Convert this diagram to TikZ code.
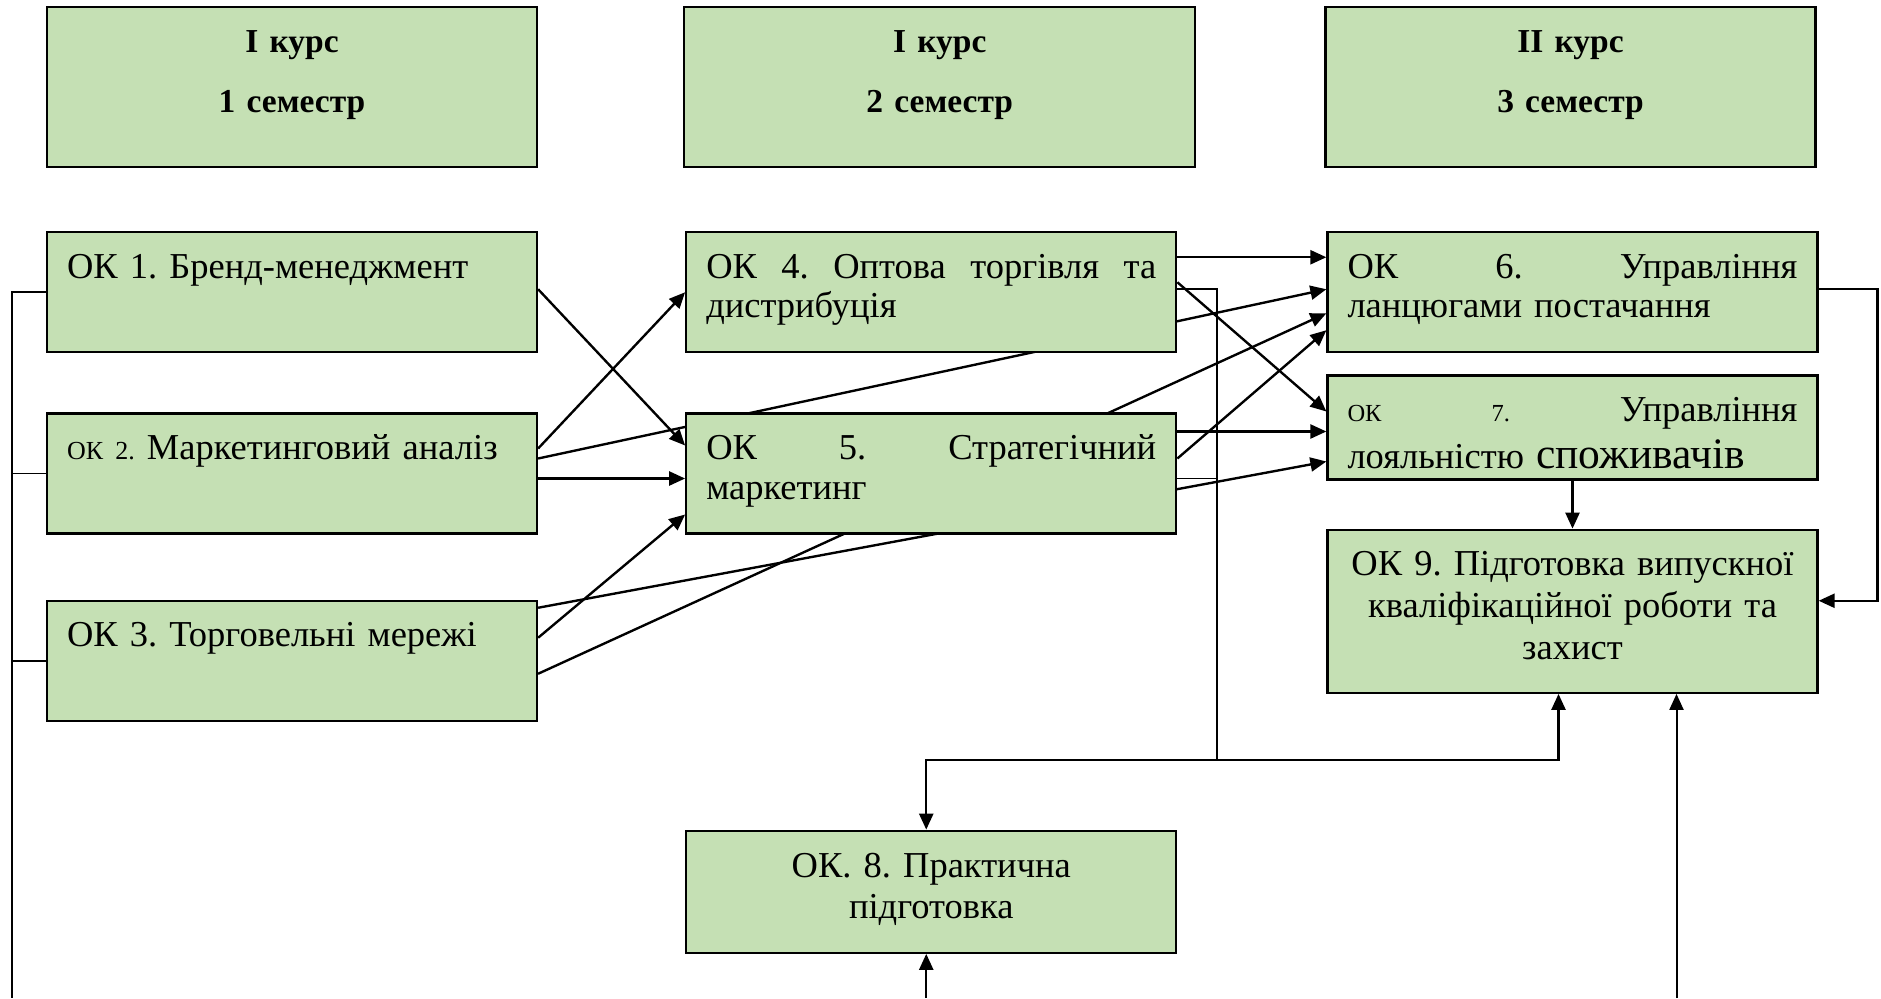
\documentclass[tikz,border=0pt]{standalone}
\usepackage{fontspec}
\setmainfont{Liberation Serif}
\usetikzlibrary{positioning,arrows.meta,backgrounds}
\definecolor{boxgreen}{RGB}{197,224,180}
\frenchspacing

\begin{document}
\begin{tikzpicture}
	[x=1pt, y=1pt,
		containsText/.style	={font=\fontsize{14.6}{15.8}\selectfont
									},
		semester/.style	={rectangle
									, draw
									, fill=boxgreen
									, line width=0.9pt
									, font=\bfseries\fontsize{13.4}{24}\selectfont
									, text width=178pt
									, align=center
									, inner xsep=9pt
									, inner ysep=0pt
									, minimum width=196pt
									, text height=18pt
									, text depth=46pt
									},
		block/.style		={rectangle
									, containsText
									, draw
									, fill=boxgreen
									, line width=0.9pt
									, text width=180pt
									, align=left
									, inner xsep=8pt
									, inner ysep=0pt
									, minimum width=196pt
									, text height=18.4pt
									, text depth=29.6pt
									},
		line/.style		 	={draw
									, line width=0.95pt
									, -{Triangle[length=6.4pt,width=5.6pt]}
									},
		link/.style			={draw
									, line width=0.95pt
									},
		thin link/.style	={draw
									, line width=0.75pt
									}
	]
\useasboundingbox (0,0) rectangle (752.4,-399.2);

% semesters
\node [semester] (sem1) at (116.8,-34.8)						{I курс\\1 семестр};
\node [semester, minimum width=204.4pt, right=58pt of sem1] (sem2)	{I курс\\2 семестр};
\node [semester, right=51.2pt of sem2] (sem3)						{II курс\\3 семестр};

% first semester
\node [block, below=25.2pt of sem1] (ok1)		{ОК 1. Бренд-менеджмент};
\node [block, below=23.6pt of ok1] (ok2)		{{\fontsize{10.4}{12}\selectfont ОК 2.} Маркетинговий аналіз};
\node [block, below=26pt of ok2] (ok3)	{ОК 3. Торговельні мережі};

% second semester
\node [block, right=58.8pt of ok1] (ok4)	{ОК\hfill 4.\hfill Оптова\hfill торгівля\hfill та\\дистрибуція};
\node [block, right=58.8pt of ok2] (ok5)	{ОК\hfill 5.\hfill Стратегічний\\маркетинг};
\node [block, below=118pt of ok5
		, align=center
		, text height=18.8pt
		, text depth=30pt
		, font=\fontsize{14.6}{16.4}\selectfont] (ok8)	{ОК. 8. Практична\\підготовка};

% third semester
\node [block, right=59.6pt of ok4] (ok6)	{ОК\hfill 6.\hfill Управління\\ланцюгами постачання};
\node [block, below=8.4pt of ok6
		, text depth=23.2pt
		, font=\fontsize{14.6}{18.8}\selectfont] (ok7)
		{{\fontsize{9.8}{11}\selectfont ОК}\hfill{\fontsize{9.8}{11}\selectfont 7.}\hfill Управління\\лояльністю {\fontsize{17.4}{18.8}\selectfont споживачів}};
\node [block, below=19.2pt of ok7
		, align=center
		, text width=192pt
		, inner xsep=2pt
		, text depth=46.8pt
		, font=\fontsize{14.6}{16.8}\selectfont] (ok9)
		{ОК 9. Підготовка випускної\\кваліфікаційної роботи та\\захист};

\coordinate (hub) at (486.8,-304);
\coordinate (trunk) at (4.8,-399.2);
\coordinate (bottom edge) at (0,-399.2);

\begin{scope}[on background layer]
	% first semester to second and third
	\path [line]	([yshift=1.2pt]ok1.east)		-- ([yshift=11.2pt]ok5.west);
	\path [line]	([yshift=10pt]ok2.east)		-- (ok4.west);
	\path [line]	([yshift=6pt]ok2.east)		-- ([yshift=1.2pt]ok6.west);
	\path [line]	([yshift=-2pt]ok2.east)		-- ([yshift=-2pt]ok5.west);
	\path [line]	([yshift=21.2pt]ok3.east)	-- ([yshift=-13.6pt]ok7.west);
	\path [line]	([yshift=9.2pt]ok3.east)		-- ([yshift=-16.4pt]ok5.west);
	\path [line]	([yshift=-5.2pt]ok3.east)	-- ([yshift=-8.4pt]ok6.west);
	% second semester to third
	\path [line]	([yshift=14pt]ok4.east)		-- ([yshift=14pt]ok6.west);
	\path [line]	([yshift=4pt]ok4.east)		-- ([yshift=6.4pt]ok7.west);
	\path [line]	([yshift=16.8pt]ok5.east)	-- ([yshift=16.8pt]ok5.east -| ok7.west);
	\path [line]	([yshift=6pt]ok5.east)		-- ([yshift=-15.2pt]ok6.west);
	% third semester
	\path [line]	([yshift=1.2pt]ok6.east)		-- ++(23.6,0) |- ([yshift=4.2pt]ok9.east);
	\path [line]	(ok7)									-- (ok9);
	% practice
	\path [thin link]	([yshift=1.2pt]ok4.east)	-| (hub);
	\path [thin link]	([yshift=-2pt]ok5.east)	-- ([yshift=-2pt]ok5.east -| hub);
	\path [line]	(hub)									-| ([xshift=-2pt]ok8.north);
	\path [line]	(hub)									-| ([xshift=-5.6pt]ok9.south);
	\path [line]	([xshift=-2pt]ok8.south |- bottom edge)		-- ([xshift=-2pt]ok8.south);
	\path [line, line width=0.8pt]	([xshift=41.6pt]ok9.south |- bottom edge)	-- ([xshift=41.6pt]ok9.south);
	% trunk on the left
	\path [thin link]	(ok1.west)	-| (trunk);
	\path [thin link]	(ok2.west)	-- (ok2.west -| trunk);
	\path [thin link]	(ok3.west)	-- (ok3.west -| trunk);
\end{scope}
\end{tikzpicture}
\end{document}
